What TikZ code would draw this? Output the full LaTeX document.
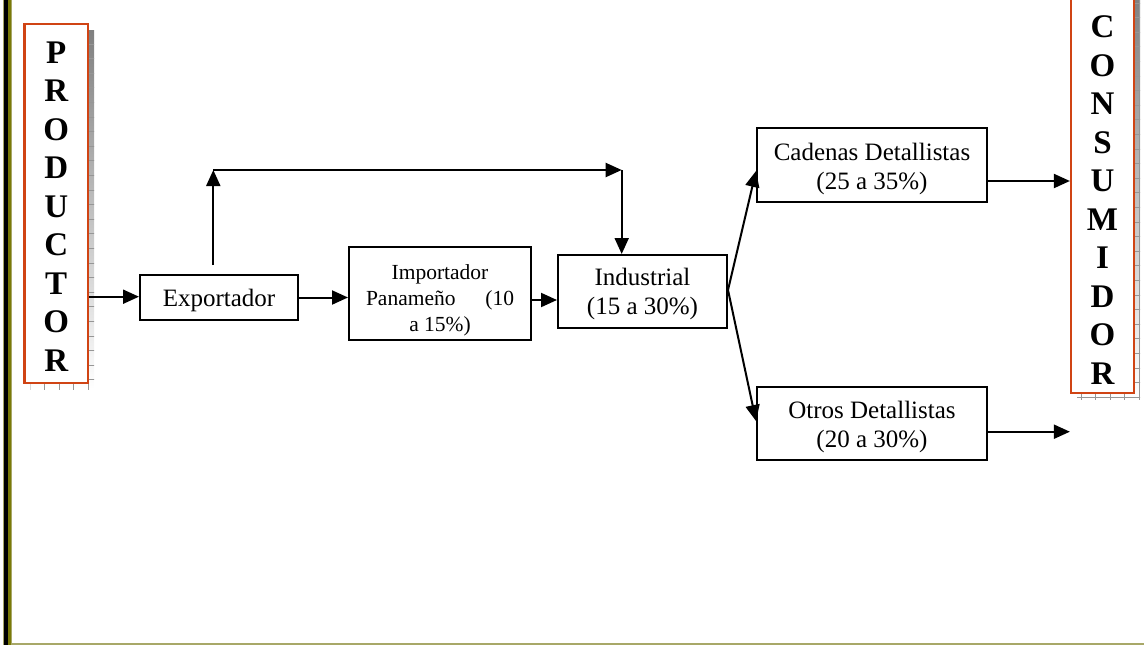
\documentclass[tikz,border=0pt]{standalone}
\usepackage{fontspec}
\setmainfont{Liberation Serif}
\usetikzlibrary{arrows.meta}
\definecolor{frame}{RGB}{208,68,20}
\definecolor{shade}{RGB}{194,194,194}
\definecolor{shadetick}{RGB}{150,150,150}
\definecolor{olivebar}{RGB}{122,122,8}
\definecolor{khaki}{RGB}{168,168,104}
\begin{document}
\begin{tikzpicture}[x=1pt,y=-1pt,
  box/.style={draw=black,line width=2pt,fill=white,inner sep=0pt,align=center,
    text depth=0pt,font=\fontsize{25}{29}\selectfont},
  endbox/.style={draw=frame,line width=2.2pt,fill=white,inner sep=0pt},
  letters/.style={align=center,inner sep=0pt,font=\bfseries\fontsize{33}{38.5}\selectfont},
  flow/.style={line width=2pt,-{Triangle[length=16pt,width=14pt]}},
  ticks/.style={shadetick,line width=0.7pt}
  ]
\useasboundingbox (0,0) rectangle (1144,645);

% page rules: left double bar and bottom line
\fill[khaki] (3.3,0) rectangle (12,645);
\fill[black] (4.3,0) rectangle (8,645);
\fill[olivebar] (8,0) rectangle (11,645);
\fill[khaki] (11,643.3) rectangle (1144,645);

% textured shadows of the two end boxes
\fill[shade] (30.5,30) rectangle (94,389.3);
\begin{scope}
  \clip (30.5,30) rectangle (94,389.3);
  \foreach \yy in {44,58.6,...,390} \draw[ticks] (30,\yy) -- (95,\yy);
  \foreach \xx in {30,44.6,...,95} \draw[ticks] (\xx,29) -- (\xx,390);
\end{scope}
\fill[shade] (1077,-4) rectangle (1140,399);
\begin{scope}
  \clip (1077,-4) rectangle (1140,399);
  \foreach \yy in {3,17.6,...,400} \draw[ticks] (1076,\yy) -- (1141,\yy);
  \foreach \xx in {1081,1095.6,...,1141} \draw[ticks] (\xx,-5) -- (\xx,400);
\end{scope}

% end boxes
\node[endbox,minimum width=63.5pt,minimum height=359pt] (prod) at (56.25,203.5) {};
\node[letters] (prodLabel) at (56.25,206.5) {P\\R\\O\\D\\U\\C\\T\\O\\R};
\node[endbox,minimum width=63pt,minimum height=403pt] (cons) at (1102.5,191.5) {};
\node[letters] (consLabel) at (1102.5,200) {C\\O\\N\\S\\U\\M\\I\\D\\O\\R};

% chain boxes
\node[box,minimum width=158pt,minimum height=45pt] (exp) at (219,297.5) {Exportador};
\node[box,minimum width=182pt,minimum height=93pt,font=\fontsize{21.5}{26}\selectfont]
  (imp) at (440,293.5)
  {\rule{0pt}{24pt}Importador\\\makebox[148pt]{Panameño\hfill(10}\\a 15\%)};
\node[box,minimum width=169pt,minimum height=73pt] (ind) at (642.5,291.5)
  {Industrial\\(15 a 30\%)};
\node[box,minimum width=230pt,minimum height=74pt] (cad) at (872,165)
  {\rule{0pt}{20pt}Cadenas Detallistas\\(25 a 35\%)};
\node[box,minimum width=230pt,minimum height=73pt] (otr) at (872,423.5)
  {\rule{0pt}{19pt}Otros Detallistas\\(20 a 30\%)};

% bypass route above the importer
\coordinate (upfoot) at (213.3,265);
\coordinate (up) at (213.3,170);
\coordinate (corner) at (621.7,170);

% connectors
\draw[flow] (prod.east |- 0,296.7) -- (exp.west |- 0,296.7);
\draw[flow] (exp.east |- 0,297.5) -- (imp.west |- 0,297.5);
\draw[flow] (imp.east |- 0,300) -- (ind.west |- 0,300);
\draw[flow] (upfoot) -- (up);
\draw[flow] (up) -- (corner);
\draw[flow] (corner) -- (corner |- ind.north);
\draw[flow] (ind.east |- 0,290) -- (cad.west |- 0,171);
\draw[flow] (ind.east |- 0,290) -- (otr.west |- 0,421);
\draw[flow] (cad.east |- 0,181) -- (cons.west |- 0,181);
\draw[flow] (otr.east |- 0,431.7) -- (cons.west |- 0,431.7);
\end{tikzpicture}
\end{document}
